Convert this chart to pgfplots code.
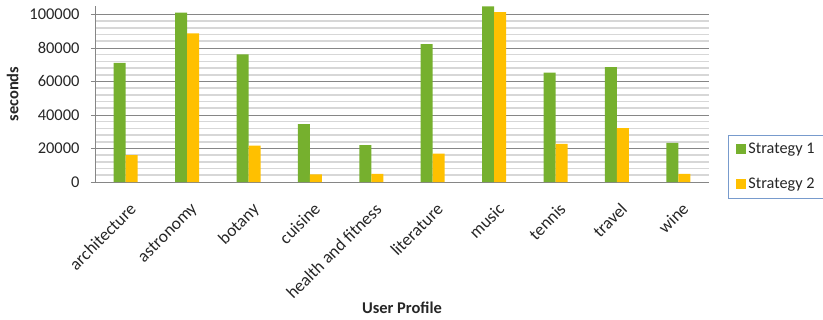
\documentclass[border=0pt]{standalone}
\usepackage{pgfplots}
\pgfplotsset{compat=1.18}
\usepackage{fontspec}
\setmainfont{Carlito}
\definecolor{g1}{RGB}{118,176,46}
\definecolor{y1}{RGB}{255,192,0}
\definecolor{majgrid}{RGB}{134,134,134}
\definecolor{mingrid}{RGB}{215,215,215}
\definecolor{legborder}{RGB}{120,155,205}
\pgfplotstableread{
x s1 s2
0 71000 16000
1 101000 88700
2 76200 21700
3 34600 4600
4 22000 4900
5 82200 16900
6 104800 101300
7 65300 22700
8 68500 32100
9 23400 4800
}\datatable
\begin{document}
\begin{tikzpicture}
\useasboundingbox (0,0) rectangle (823bp,-320bp);
\begin{axis}[
  at={(95bp,-182bp)}, anchor=south west,
  scale only axis, width=614bp, height=176bp,
  ymin=0, ymax=105000, xmin=-0.5, xmax=9.5,
  ytick={0,20000,...,100000}, minor y tick num=4,
  ymajorgrids, yminorgrids,
  major grid style={draw=majgrid, line width=0.8bp},
  minor grid style={draw=mingrid, line width=1.6bp},
  axis lines*=left,
  axis line style={draw=majgrid, line width=0.8bp},
  ybar=0bp, bar width=12bp,
  xtick=data,
  xticklabels={architecture,astronomy,botany,cuisine,health and fitness,literature,music,tennis,travel,wine},
  x tick label style={rotate=45, anchor=north east, font=\fontsize{17.5}{17.5}\selectfont, text=black!85, inner sep=1bp, xshift=-8bp, yshift=-12bp},
  xtick style={draw=none},
  tick align=outside,
  major tick length=4bp, minor tick length=0bp,
  ytick style={draw=majgrid, line width=0.8bp},
  scaled y ticks=false,
  yticklabel style={/pgf/number format/fixed, /pgf/number format/1000 sep={}, font=\fontsize{16.5}{16.5}\selectfont, text=black!85, xshift=-8bp},
  /pgf/number format/assume math mode=true,
  xlabel={\textbf{User Profile}},
  xlabel style={at={(axis description cs:0.5,-0.716)}, anchor=center, font=\fontsize{16.5}{16.5}\selectfont, text=black!85},
  ylabel={\textbf{seconds}},
  ylabel style={at={(axis description cs:-0.134,0.5)}, anchor=center, font=\fontsize{16.5}{16.5}\selectfont, text=black!85},
  legend style={at={(1.031,0.267)}, anchor=north west, draw=legborder, line width=0.8bp,
    font=\fontsize{16.3}{16.3}\selectfont, text=black!85, row sep=19bp, inner xsep=8bp, inner ysep=6bp},
  legend cell align=left,
  legend image code/.code={\fill[#1] (0bp,-5bp) rectangle (10bp,5bp);},
]
\addplot[fill=g1, draw=none] table[x=x, y=s1] {\datatable};
\addplot[fill=y1, draw=none] table[x=x, y=s2] {\datatable};
\legend{Strategy 1, Strategy 2}
\end{axis}
\end{tikzpicture}
\end{document}
